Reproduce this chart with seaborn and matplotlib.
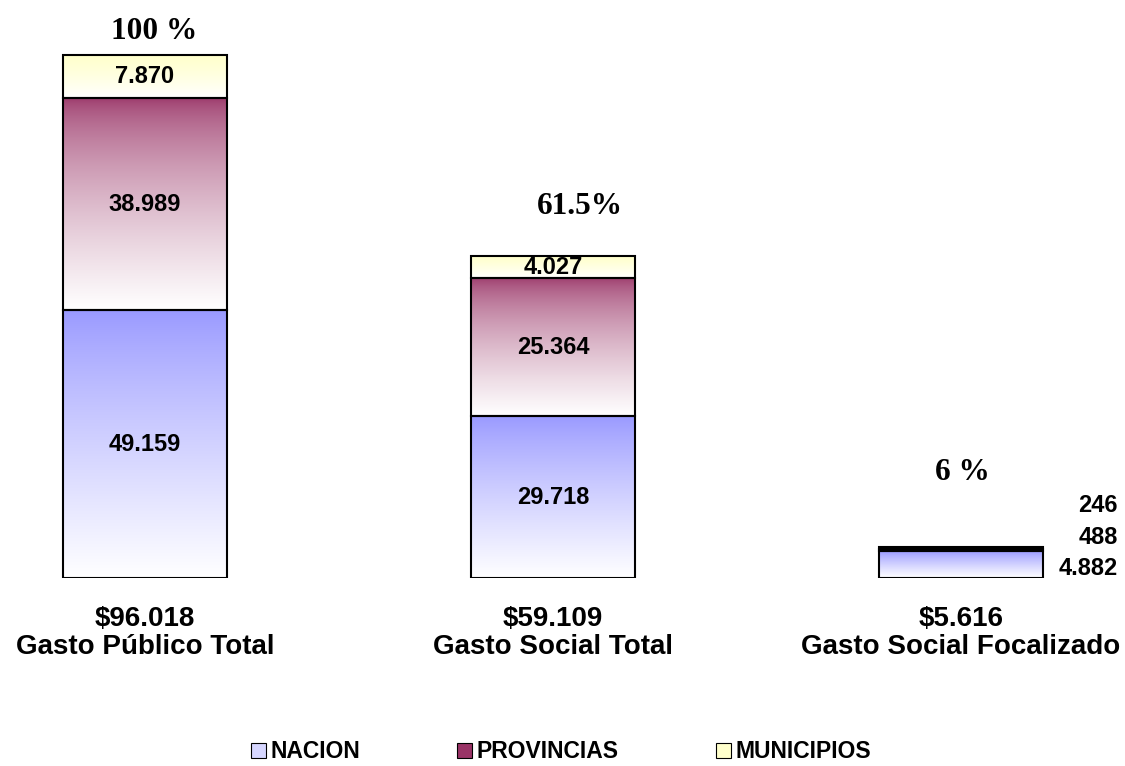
import numpy as np
import matplotlib
matplotlib.use("Agg")
import matplotlib.pyplot as plt
import matplotlib.colors as mcolors
from matplotlib.patches import Patch
import seaborn as sns

# datos (millones de $)
categorias = ["Gasto Público Total", "Gasto Social Total", "Gasto Social Focalizado"]
totales = ["$96.018", "$59.109", "$5.616"]
porcentajes = ["100 %", "61.5%", "6 %"]
nacion = [49159, 29718, 4882]
provincias = [38989, 25364, 488]
municipios = [7870, 4027, 246]

# estilo
series = [
    ("NACION", nacion, "#9999FF", 0.85),
    ("PROVINCIAS", provincias, "#993366", 0.6),
    ("MUNICIPIOS", municipios, "#FFFFCC", 1.2),
]
pct_offsets = [(6.5, 17), (19.5, 36), (0.7, 54)]          # pt, sobre cada barra
small_offsets = [(54, -2.4), (54, 9.4), (54, 30.5)]       # pt, etiquetas barra chica
SANS = "Liberation Sans"
SERIF = "Liberation Serif"


def fmt(v):
    return f"{v:,}".replace(",", ".")


def gradient_fill(ax, patch, color, power):
    x0, y0 = patch.get_x(), patch.get_y()
    w, h = patch.get_width(), patch.get_height()
    c = np.array(mcolors.to_rgb(color))
    t = np.linspace(0, 1, 256)[:, None] ** power
    img = c + (1 - c) * t
    img = img[:, None, :]
    im = ax.imshow(img, extent=[x0, x0 + w, y0, y0 + h], origin="upper",
                   aspect="auto", interpolation="bilinear",
                   zorder=patch.get_zorder() + 0.1)
    im.set_clip_path(patch)
    patch.set_facecolor("none")
    patch.set_zorder(patch.get_zorder() + 0.2)


sns.set_theme(style="white")
plt.rcParams["text.color"] = "black"
plt.rcParams["xtick.color"] = "black"
fig = plt.figure(figsize=(11.25, 7.66), dpi=100)
ax = fig.add_axes([0, 188 / 766, 1, 578 / 766])

bottom = np.zeros(len(categorias))
layers = []
for name, vals, color, power in series:
    n_before = len(ax.patches)
    sns.barplot(x=categorias, y=vals, bottom=bottom, color=color, width=0.4,
                edgecolor="black", linewidth=1.5, saturation=1, ax=ax)
    layers.append((ax.patches[n_before:], vals, color, power))
    bottom = bottom + np.array(vals)

xlim = (-145 / 408, (1125 - 145) / 408)
ylim = (0, 578 / (523 / 96018))

for patches, vals, color, power in layers:
    for patch in patches:
        gradient_fill(ax, patch, color, power)

# etiquetas de valores
for li, (patches, vals, color, power) in enumerate(layers):
    for i, (patch, v) in enumerate(zip(patches, vals)):
        cx = patch.get_x() + patch.get_width() / 2
        cy = patch.get_y() + patch.get_height() / 2
        if i == 2:
            ax.annotate(fmt(v), (patch.get_x() + patch.get_width(), cy),
                        xytext=small_offsets[li], textcoords="offset points",
                        ha="right", va="center", fontsize=17, fontweight="bold",
                        family=SANS, color="black", zorder=5)
        else:
            ax.text(cx, cy, fmt(v), ha="center", va="center", fontsize=17,
                    fontweight="bold", family=SANS, color="black", zorder=5)

# porcentajes sobre las barras
for i, patch in enumerate(layers[-1][0]):
    cx = patch.get_x() + patch.get_width() / 2
    top = patch.get_y() + patch.get_height()
    ax.annotate(porcentajes[i], (cx, top), xytext=pct_offsets[i],
                textcoords="offset points", ha="center", va="center",
                fontsize=22.5, fontweight="bold", family=SERIF, color="black")

ax.set_xlim(*xlim)
ax.set_ylim(*ylim)
ax.set_xticks(range(len(categorias)))
ax.set_xticklabels([f"{t}\n{c}" for t, c in zip(totales, categorias)],
                   fontsize=20, fontweight="bold", family=SANS, linespacing=1.1,
                   color="black")
ax.tick_params(axis="x", length=0, pad=20)
ax.set_yticks([])
ax.set_xlabel("")
ax.set_ylabel("")
for s in ax.spines.values():
    s.set_visible(False)

handles = [
    Patch(facecolor="#D6D6FF", edgecolor="black", linewidth=0.8),
    Patch(facecolor="#993366", edgecolor="black", linewidth=0.8),
    Patch(facecolor="#FFFFCC", edgecolor="black", linewidth=0.8),
]
leg = fig.legend(handles, [s[0] for s in series], loc="center",
                 bbox_to_anchor=(561 / 1125, 14 / 766), ncol=3, frameon=False,
                 handlelength=0.65, handleheight=0.65, handletextpad=0.2,
                 columnspacing=4.25,
                 prop={"family": SANS, "weight": "bold", "size": 16.5})
for txt in leg.get_texts():
    txt.set_color("black")

fig.savefig("out.png", dpi=100)
